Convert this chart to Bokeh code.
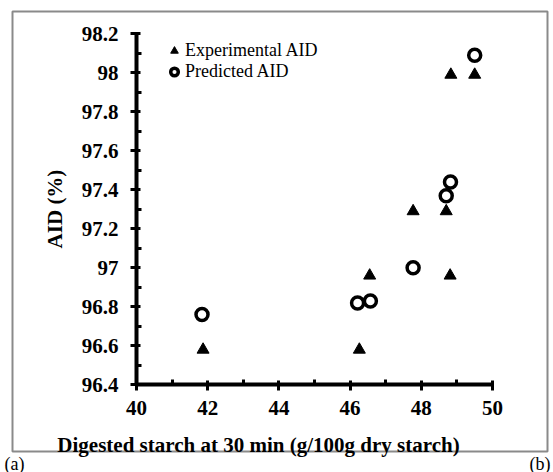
from bokeh.plotting import figure
from bokeh.models import FixedTicker, Range1d, Legend, LegendItem, Label
from bokeh.embed import file_html
from bokeh.resources import INLINE

# Digested starch at 30 min vs apparent ileal digestibility
exp_x = [41.87, 46.26, 46.55, 47.77, 48.70, 48.81, 48.83, 49.50]
exp_y = [96.58, 96.58, 96.96, 97.29, 97.29, 96.96, 97.99, 97.99]
pred_x = [41.84, 46.21, 46.57, 47.77, 48.70, 48.82, 49.50]
pred_y = [96.76, 96.82, 96.83, 97.00, 97.37, 97.44, 98.09]

x_ticks = [40, 42, 44, 46, 48, 50]
x_minor = [41, 43, 45, 47, 49]
y_ticks = [96.4, 96.6, 96.8, 97.0, 97.2, 97.4, 97.6, 97.8, 98.0, 98.2]
y_labels = ["96.4", "96.6", "96.8", "97", "97.2", "97.4", "97.6", "97.8", "98", "98.2"]
y_minor = [96.5, 96.7, 96.9, 97.1, 97.3, 97.5, 97.7, 97.9, 98.1]

X_MIN, X_MAX = 40, 50
Y_MIN, Y_MAX = 96.4, 98.2

# page geometry (pixels): the frame fills the whole canvas and the axes
# are pinned at the lower-left corner of the data area
W, H = 553, 472
AX_LEFT, AX_RIGHT = 136.0, 492.0
AX_TOP, AX_BOTTOM = 33.3, 384.3
PX_X = (AX_RIGHT - AX_LEFT) / (X_MAX - X_MIN)
PX_Y = (AX_BOTTOM - AX_TOP) / (Y_MAX - Y_MIN)


def dx(px):
    return X_MIN + (px - AX_LEFT) / PX_X


def dy(py):
    return Y_MIN + (AX_BOTTOM - py) / PX_Y


SERIF = "Liberation Serif"

p = figure(width=W, height=H, output_backend="svg", toolbar_location=None,
           x_range=Range1d(dx(0), dx(W)), y_range=Range1d(dy(H), dy(0)),
           min_border=0)
p.outline_line_color = None
p.grid.visible = False

# outer chart border
p.quad(left=[dx(12)], right=[dx(547)], top=[dy(11)], bottom=[dy(451)],
       fill_alpha=0, line_color="#8a8a8a", line_width=2)

xa = p.xaxis[0]
ya = p.yaxis[0]
for ax in (xa, ya):
    ax.axis_line_width = 4
    ax.axis_line_color = "black"
    ax.major_tick_line_width = 3
    ax.major_tick_line_color = "black"
    ax.minor_tick_line_width = 3
    ax.minor_tick_line_color = "black"
    ax.major_tick_in = 4
    ax.major_tick_out = 6
    ax.minor_tick_in = 5
    ax.minor_tick_out = 0
    ax.major_label_text_font = SERIF
    ax.major_label_text_font_style = "bold"
    ax.major_label_text_font_size = "21px"
    ax.major_label_text_color = "black"
    ax.axis_label_text_font = SERIF
    ax.axis_label_text_font_style = "bold"
    ax.axis_label_text_font_size = "21px"
    ax.axis_label_text_color = "black"

xa.ticker = FixedTicker(ticks=x_ticks, minor_ticks=x_minor)
xa.fixed_location = Y_MIN
xa.bounds = (X_MIN, X_MAX)
xa.major_label_standoff = 10

ya.ticker = FixedTicker(ticks=y_ticks, minor_ticks=y_minor)
ya.major_label_overrides = {t: s for t, s in zip(y_ticks, y_labels)}
ya.fixed_location = X_MIN
ya.bounds = (Y_MIN, Y_MAX)
ya.major_label_standoff = 12
ya.axis_label = "AID (%)"
ya.axis_label_standoff = 12

tri = p.scatter(exp_x, exp_y, marker="triangle", size=12,
                fill_color="black", line_color="black", line_width=1)
circ = p.scatter(pred_x, pred_y, marker="circle", size=12,
                 fill_color="white", line_color="black", line_width=3.5)

legend = Legend(items=[LegendItem(label="Experimental AID", renderers=[tri]),
                       LegendItem(label="Predicted AID", renderers=[circ])],
                location=(164, H - 82), padding=0, spacing=0, margin=0,
                glyph_width=20, glyph_height=19, label_height=19,
                label_standoff=1, border_line_color=None,
                background_fill_alpha=0,
                label_text_font=SERIF, label_text_font_size="18px",
                label_text_color="black")
p.add_layout(legend, "center")

# x-axis title
p.add_layout(Label(x=dx(258), y=dy(444), text="Digested starch at 30 min (g/100g dry starch)",
                   text_align="center", text_baseline="alphabetic",
                   text_font=SERIF, text_font_style="bold",
                   text_font_size="21px", text_color="black"))

# panel tags
p.add_layout(Label(x=dx(4), y=dy(463), text="(a)", text_align="left",
                   text_baseline="alphabetic", text_font=SERIF,
                   text_font_size="18px", text_color="black"))
p.add_layout(Label(x=dx(529), y=dy(463), text="(b)", text_align="left",
                   text_baseline="alphabetic", text_font=SERIF,
                   text_font_size="18px", text_color="black"))

open("out.html", "w").write(file_html(p, INLINE))
